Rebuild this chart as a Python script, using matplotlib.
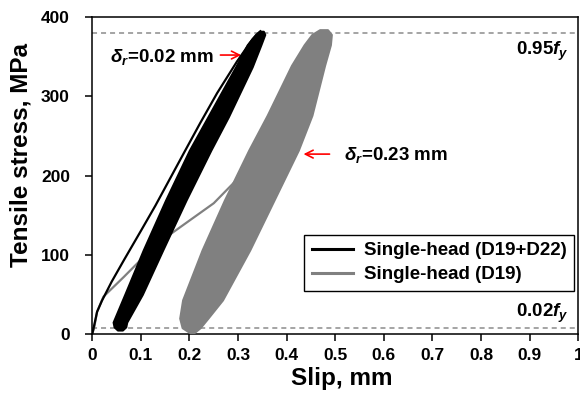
import matplotlib
matplotlib.use("Agg")
import matplotlib.pyplot as plt

plt.rcParams['font.family'] = ['Liberation Sans', 'DejaVu Sans']
plt.rcParams['font.weight'] = 'bold'
plt.rcParams['mathtext.fontset'] = 'custom'
plt.rcParams['mathtext.rm'] = 'Liberation Sans:bold'
plt.rcParams['mathtext.it'] = 'Liberation Sans:italic:bold'
plt.rcParams['mathtext.bf'] = 'Liberation Sans:bold'

# ---- data (slip in mm, stress in MPa) ----
fy = 400
upper_limit = 0.95 * fy
lower_limit = 0.02 * fy

# first loading, Single-head (D19+D22)
d1922_first_slip = [0.0, 0.003, 0.010, 0.020, 0.040, 0.065, 0.100, 0.130, 0.160, 0.190, 0.222, 0.257, 0.298, 0.330, 0.346]
d1922_first_stress = [0, 8, 28, 42, 66, 93, 130, 162, 196, 230, 266, 304, 344, 372, 382]

# cyclic band, Single-head (D19+D22)
d1922_band_stress = [5, 9, 15, 50, 106, 169, 232, 274, 337, 365, 378, 382]
d1922_band_left = [0.052, 0.045, 0.043, 0.067, 0.105, 0.151, 0.200, 0.238, 0.295, 0.319, 0.336, 0.344]
d1922_band_right = [0.062, 0.069, 0.071, 0.103, 0.145, 0.193, 0.244, 0.280, 0.329, 0.347, 0.355, 0.352]

# first loading, Single-head (D19)
d19_first_slip = [0.0, 0.004, 0.010, 0.023, 0.065, 0.099, 0.161, 0.202, 0.250, 0.298, 0.335, 0.345]
d19_first_stress = [0, 8, 28, 47, 72, 93, 126, 144, 165, 195, 225, 232]

# cyclic band, Single-head (D19)
d19_band_stress = [2, 8, 20, 43, 106, 169, 232, 276, 339, 365, 378, 384]
d19_band_left = [0.200, 0.185, 0.180, 0.186, 0.226, 0.272, 0.322, 0.360, 0.410, 0.436, 0.452, 0.468]
d19_band_right = [0.210, 0.222, 0.238, 0.268, 0.324, 0.374, 0.424, 0.452, 0.478, 0.490, 0.492, 0.484]

x_ticks = [0, 0.1, 0.2, 0.3, 0.4, 0.5, 0.6, 0.7, 0.8, 0.9, 1]
x_ticklabels = ['0', '0.1', '0.2', '0.3', '0.4', '0.5', '0.6', '0.7', '0.8', '0.9', '1']
y_ticks = [0, 100, 200, 300, 400]

black = '#000000'
gray = '#808080'

fig = plt.figure(figsize=(5.8, 4.0), dpi=100)
ax = fig.add_axes([0.159, 0.165, 0.838, 0.7925])

# limit lines
dash = dict(color='#8c8c8c', lw=1.1, dashes=(3.3, 2.6), zorder=1)
ax.axhline(upper_limit, **dash)
ax.axhline(lower_limit, **dash)

# D19 first loading (under the black band)
ax.plot(d19_first_slip, d19_first_stress, color=gray, lw=1.6, zorder=2)
ax.fill_betweenx(d19_band_stress, d19_band_left, d19_band_right, color=gray, lw=1.5,
                 edgecolor=gray, zorder=3)

ax.plot(d1922_first_slip, d1922_first_stress, color=black, lw=1.6, zorder=4)
ax.fill_betweenx(d1922_band_stress, d1922_band_left, d1922_band_right, color=black, lw=1.5,
                 edgecolor=black, zorder=4)

# legend handles
ax.plot([], [], color=black, lw=2.2, label='Single-head (D19+D22)')
ax.plot([], [], color=gray, lw=2.2, label='Single-head (D19)')
leg = ax.legend(loc='lower right', bbox_to_anchor=(0.992, 0.136), fontsize=13.5,
                frameon=True, fancybox=False, edgecolor='black', framealpha=1,
                handlelength=2.2, handletextpad=0.6, labelspacing=0.37,
                borderpad=0.4, borderaxespad=0)
leg.get_frame().set_linewidth(1.0)

# annotations
ax.text(0.037, 350, r'$\delta_r$=0.02 mm', fontsize=13.5, fontweight='bold', va='center', ha='left')
ax.annotate('', xy=(0.312, 352), xytext=(0.258, 352),
            arrowprops=dict(arrowstyle='->', color='red', lw=1.2, mutation_scale=14))
ax.text(0.518, 226, r'$\delta_r$=0.23 mm', fontsize=13.5, fontweight='bold', va='center', ha='left')
ax.annotate('', xy=(0.429, 227), xytext=(0.494, 227),
            arrowprops=dict(arrowstyle='->', color='red', lw=1.2, mutation_scale=14))
ax.text(0.981, 356, r'0.95$f_y$', fontsize=13.5, fontweight='bold', va='center', ha='right')
ax.text(0.981, 26, r'0.02$f_y$', fontsize=13.5, fontweight='bold', va='center', ha='right')

ax.set_xlim(0, 1)
ax.set_ylim(0, 400)
ax.set_xticks(x_ticks)
ax.set_xticklabels(x_ticklabels)
ax.set_yticks(y_ticks)
ax.tick_params(axis='both', direction='out', length=5, width=1.1, labelsize=12.5, color='black')
ax.tick_params(axis='x', pad=5)
ax.tick_params(axis='y', pad=11)
for lab in ax.get_xticklabels() + ax.get_yticklabels():
    lab.set_fontweight('bold')
for sp in ax.spines.values():
    sp.set_linewidth(1.1)
    sp.set_color('black')

ax.set_xlabel('Slip, mm', fontsize=17.5, fontweight='bold')
ax.set_ylabel('Tensile stress, MPa', fontsize=17.5, fontweight='bold')
ax.xaxis.set_label_coords(0.513, -0.105)
ax.yaxis.set_label_coords(-0.123, 0.565)

fig.savefig('out.png', dpi=100)
